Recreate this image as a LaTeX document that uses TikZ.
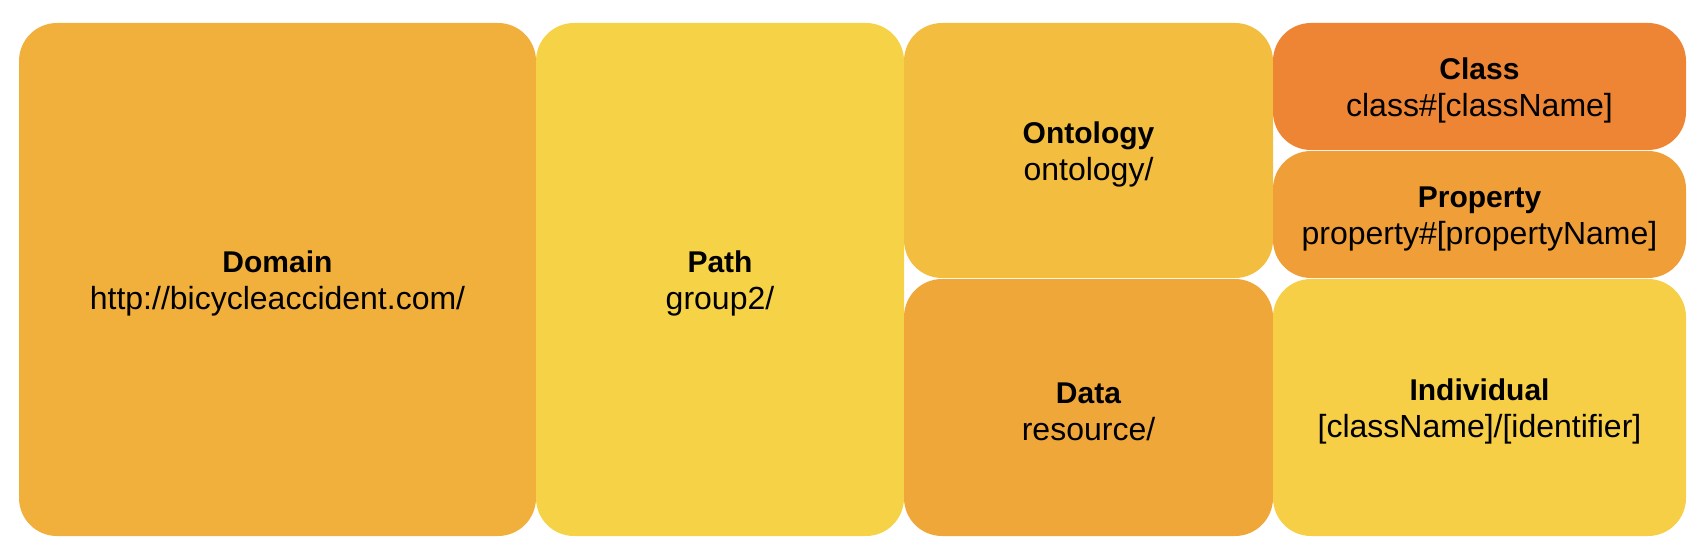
\documentclass[tikz,border=0pt]{standalone}
\usepackage{fontspec}
\setmainfont{Liberation Sans}
\definecolor{cDomain}{RGB}{241,176,60}
\definecolor{cPath}{RGB}{246,210,71}
\definecolor{cOnto}{RGB}{243,190,64}
\definecolor{cData}{RGB}{240,167,58}
\definecolor{cClass}{RGB}{237,133,52}
\definecolor{cProp}{RGB}{240,159,56}
\definecolor{cIndiv}{RGB}{246,207,70}
\newcommand\ttlline[1]{{\fontsize{15}{18.5}\selectfont\bfseries\rule{0pt}{15pt}#1}}
\tikzset{
  tile/.style={rectangle, rounded corners=19pt, draw=none, inner sep=0pt,
    align=center, text=black, font=\fontsize{16}{18.5}\selectfont},
}
\begin{document}
\begin{tikzpicture}[x=0.5pt,y=-0.5pt]
\useasboundingbox (0,0) rectangle (1704,556);
% Domain (19,23)-(536,536)
\node[tile, fill=cDomain, minimum width=258.5pt, minimum height=256.5pt] (domain) at (277.5,279.5)
  {\ttlline{Domain}\\http://bicycleaccident.com/};
% Path (536,23)-(904,536)
\node[tile, fill=cPath, minimum width=184pt, minimum height=256.5pt] (path) at (720,279.5)
  {\ttlline{Path}\\group2/};
% Ontology (904,23)-(1273,278)
\node[tile, fill=cOnto, minimum width=184.5pt, minimum height=127.5pt] (onto) at (1088.5,150.5)
  {\ttlline{Ontology}\\ontology/};
% Data (904,279)-(1273,536)
\node[tile, fill=cData, minimum width=184.5pt, minimum height=128.5pt] (data) at (1088.5,407.5)
  {\ttlline{Data}\\resource/};
% Class (1273,23)-(1686,150)
\node[tile, fill=cClass, minimum width=206.5pt, minimum height=63.5pt] (class) at (1479.5,86.5)
  {\ttlline{Class}\\class\#[className]};
% Property (1273,151)-(1686,278)
\node[tile, fill=cProp, minimum width=206.5pt, minimum height=63.5pt] (prop) at (1479.5,214.5)
  {\ttlline{Property}\\property\#[propertyName]};
% Individual (1273,279)-(1686,536)
\node[tile, fill=cIndiv, minimum width=206.5pt, minimum height=128.5pt] (indiv) at (1479.5,407.5)
  {\ttlline{Individual}\\{[className]/[identifier]}};
\end{tikzpicture}
\end{document}
